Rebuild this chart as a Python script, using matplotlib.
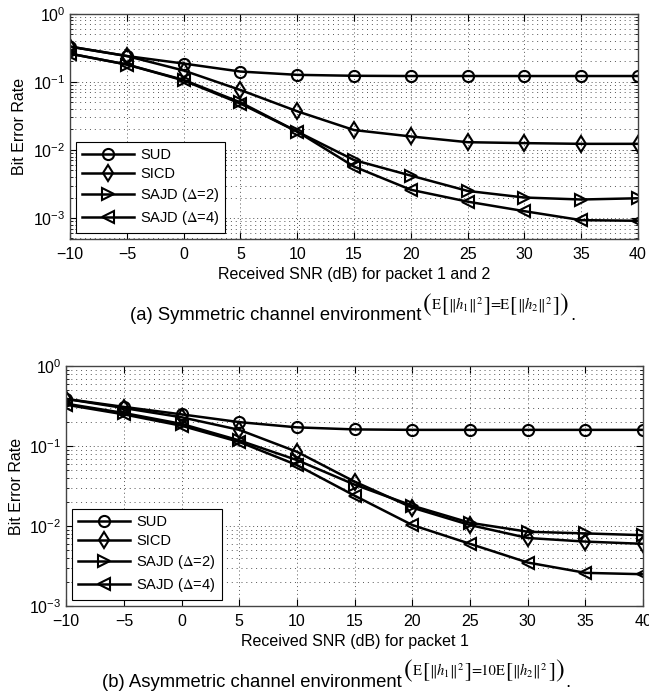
import numpy as np
import matplotlib
matplotlib.use("Agg")
import matplotlib.pyplot as plt
from matplotlib.ticker import LogLocator, NullFormatter, MultipleLocator

plt.rcParams['font.family'] = ['Liberation Sans', 'DejaVu Sans']
plt.rcParams['mathtext.fontset'] = 'stix'

snr = [-10, -5, 0, 5, 10, 15, 20, 25, 30, 35, 40]
labels = ['SUD', 'SICD', r'SAJD ($\Delta$=2)', r'SAJD ($\Delta$=4)']
markers = ['o', 'd', '>', '<']

# (a) symmetric channel
ber_a = [
    [0.33, 0.24, 0.186, 0.142, 0.127, 0.123, 0.122, 0.122, 0.122, 0.122, 0.122],
    [0.33, 0.24, 0.147, 0.076, 0.037, 0.0196, 0.0158, 0.0130, 0.0126, 0.0123, 0.0123],
    [0.26, 0.18, 0.107, 0.050, 0.0186, 0.0071, 0.0042, 0.0025, 0.0020, 0.00187, 0.00195],
    [0.26, 0.18, 0.105, 0.048, 0.0186, 0.0057, 0.0026, 0.00174, 0.00126, 0.00093, 0.00091],
]
# (b) asymmetric channel
ber_b = [
    [0.39, 0.31, 0.25, 0.20, 0.172, 0.162, 0.160, 0.160, 0.160, 0.160, 0.160],
    [0.39, 0.30, 0.23, 0.16, 0.085, 0.036, 0.017, 0.0103, 0.0071, 0.0064, 0.0060],
    [0.34, 0.26, 0.19, 0.118, 0.067, 0.033, 0.018, 0.011, 0.0085, 0.0081, 0.0077],
    [0.33, 0.25, 0.18, 0.113, 0.058, 0.024, 0.0103, 0.0060, 0.0035, 0.0026, 0.0025],
]

W, H = 649, 693
fig = plt.figure(figsize=(W / 100, H / 100), dpi=100)
ax1 = fig.add_axes([0.108, 0.655, 0.875, 0.325])
ax2 = fig.add_axes([0.102, 0.1255, 0.889, 0.346])


def draw(ax, data, ylow, xlabel):
    for vals, lab, m in zip(data, labels, markers):
        ax.semilogy(snr, vals, color='black', lw=1.8, marker=m, ms=8,
                    mfc='none', mec='black', mew=1.5, label=lab)
    ax.set_xlim(-10, 40)
    ax.set_ylim(ylow, 1)
    ax.xaxis.set_major_locator(MultipleLocator(5))
    ax.yaxis.set_major_locator(LogLocator(base=10, numticks=10))
    ax.yaxis.set_minor_locator(LogLocator(base=10, subs=np.arange(2, 10), numticks=10))
    ax.yaxis.set_minor_formatter(NullFormatter())
    ax.tick_params(which='both', direction='in', top=True, right=True, labelsize=11.5)
    ax.tick_params(which='major', length=5)
    ax.tick_params(axis='x', pad=6)
    ax.tick_params(which='minor', length=2.5)
    ax.grid(True, which='major', axis='x', color='#555555', ls=(0, (1, 3)), lw=0.7)
    ax.grid(True, which='major', axis='y', color='#555555', ls=(0, (1, 3)), lw=0.7)
    ax.grid(True, which='minor', axis='y', color='#555555', ls=(0, (1, 4)), lw=0.7)
    for s in ax.spines.values():
        s.set_color('#444444')
        s.set_linewidth(1.0)
    ax.set_ylabel('Bit Error Rate', fontsize=11.5)
    ax.set_xlabel(xlabel, fontsize=11.5, labelpad=3)
    leg = ax.legend(loc='lower left', fontsize=10.5, handlelength=3.6,
                    fancybox=False, framealpha=1, edgecolor='black',
                    borderaxespad=0.4, labelspacing=0.35, handletextpad=0.4)
    leg.get_frame().set_linewidth(0.8)


draw(ax1, ber_a, 4.9e-4, 'Received SNR (dB) for packet 1 and 2')
draw(ax2, ber_b, 1e-3, 'Received SNR (dB) for packet 1')

renderer = fig.canvas.get_renderer()


def put_pieces(x0, yc, pieces):
    # lay out math pieces left to right, each with its own size
    x = x0
    for s, fs, gap in pieces:
        t = fig.text(x / W, 1 - yc / H, s, ha='left', va='center', fontsize=fs,
                     family='STIXGeneral')
        x += t.get_window_extent(renderer).width + gap
    return x


def caption(text, xr, base, yc, factor):
    fig.text(xr / W, 1 - base / H, text, ha='right', va='baseline', fontsize=13.3)
    pieces = [('(', 19, 0), ('E', 10.5, 0), ('[', 15, 0),
              (r'$\|h_1\|^2$', 10.5, 0), (']', 15, 0), ('=' + factor + 'E', 10.5, 0),
              ('[', 15, 0), (r'$\|h_2\|^2$', 10.5, 0), (']', 15, 0), (')', 19, 1)]
    xe = put_pieces(xr + 2, yc, pieces)
    fig.text((xe + 1) / W, 1 - base / H, '.', ha='left', va='baseline', fontsize=13.3)


caption("(a) Symmetric channel environment", 421, 320, 305, '')
caption("(b) Asymmetric channel environment", 402, 687, 671, '10')

fig.savefig('out.png', dpi=100)
